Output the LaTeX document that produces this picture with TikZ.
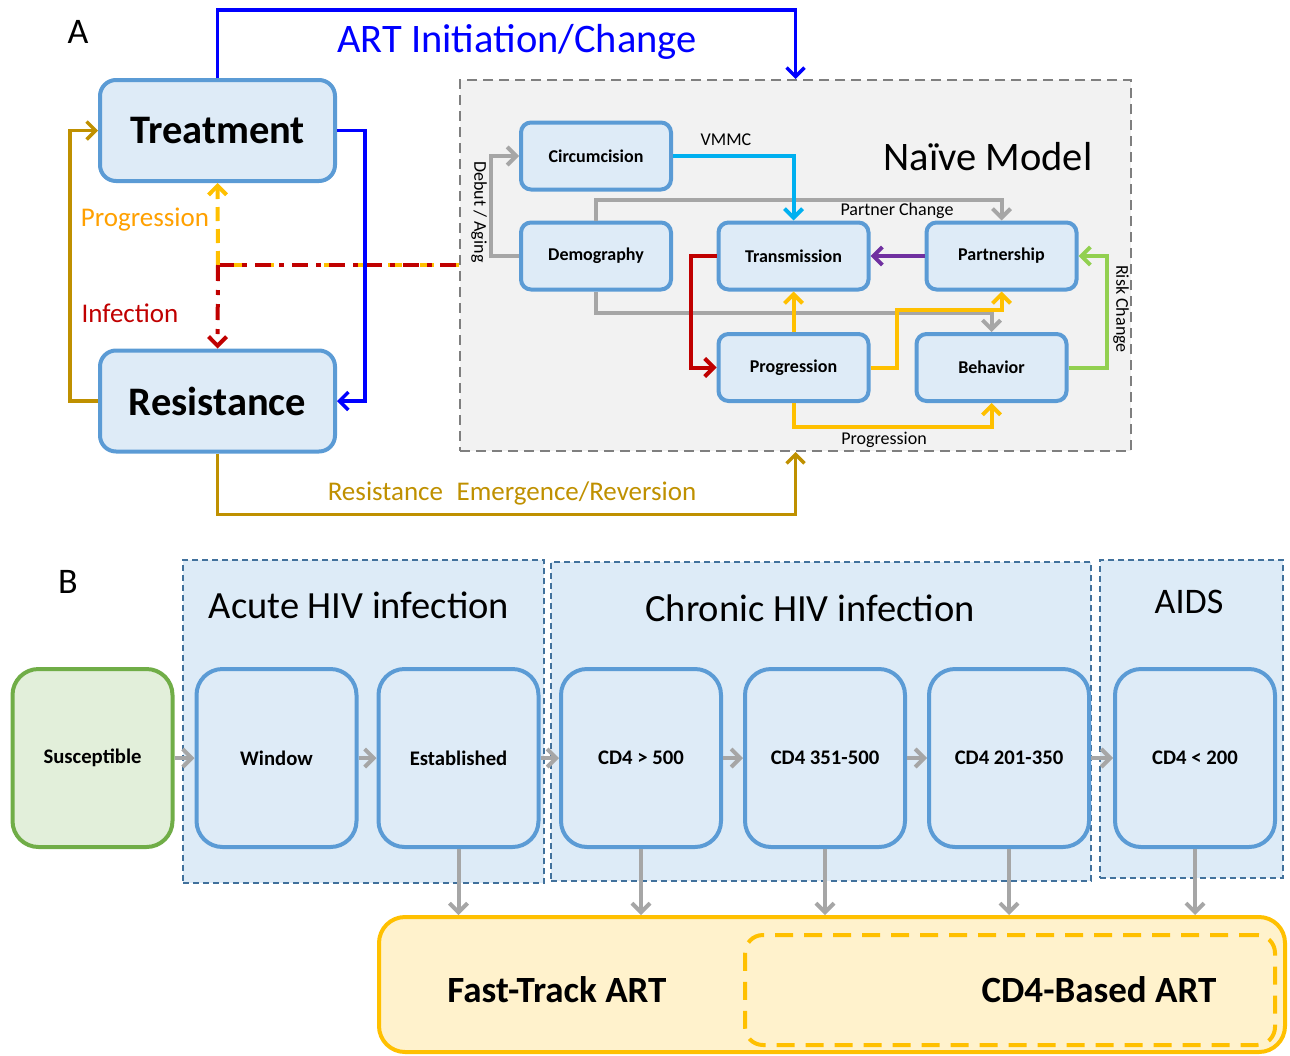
\documentclass[tikz,border=0pt]{standalone}
\usepackage{fontspec}
\setmainfont{Carlito}
\usetikzlibrary{arrows.meta,calc,positioning}
\definecolor{stateline}{HTML}{5B9BD5}
\definecolor{statefill}{HTML}{DEEBF7}
\definecolor{groupline}{HTML}{41719C}
\definecolor{groupfill}{HTML}{DDEBF7}
\definecolor{naivefill}{HTML}{F2F2F2}
\definecolor{naiveline}{HTML}{7F7F7F}
\definecolor{flowgray}{HTML}{A6A6A6}
\definecolor{artblue}{HTML}{0000FF}
\definecolor{resbrown}{HTML}{BF9000}
\definecolor{progorange}{HTML}{FFA000}
\definecolor{progyellow}{HTML}{FFC000}
\definecolor{infred}{HTML}{C00000}
\definecolor{vmmccyan}{HTML}{00B0F0}
\definecolor{partpurple}{HTML}{7030A0}
\definecolor{riskgreen}{HTML}{92D050}
\definecolor{suscline}{HTML}{70AD47}
\definecolor{suscfill}{HTML}{E2EFDA}
\definecolor{artfill}{HTML}{FFF2CC}
\tikzset{
  bigbox/.style={draw=stateline,fill=statefill,line width=4pt,rounded corners=16pt,minimum width=235pt,minimum height=101pt,inner sep=0pt,font=\fontsize{40.5}{42}\selectfont\bfseries},
  subbox/.style={draw=stateline,fill=statefill,line width=4pt,rounded corners=10pt,minimum width=150pt,minimum height=67pt,inner sep=0pt,font=\fontsize{18}{20}\selectfont\bfseries},
  stagebox/.style={draw=stateline,fill=statefill,line width=4pt,rounded corners=26pt,minimum width=160pt,minimum height=178pt,inner sep=0pt,font=\fontsize{20.7}{23}\selectfont\bfseries},
  groupbox/.style={draw=groupline,fill=groupfill,line width=1.6pt,dash pattern=on 6pt off 4pt,inner sep=0pt},
  barb/.style={-{Straight Barb[length=9pt,width=18pt]}},
  flow/.style={barb,line width=4pt,draw=flowgray},
  bigtext/.style={font=\fontsize{40.5}{42}\selectfont},
  grouptext/.style={font=\fontsize{38.5}{40}\selectfont},
  midtext/.style={font=\fontsize{27}{29}\selectfont},
  smalltext/.style={font=\fontsize{18}{20}\selectfont}
}
\begin{document}
\begin{tikzpicture}[
    x=1pt,y=-1pt,
    outerline/.style={barb,line width=3.5pt},
    innerline/.style={barb,line width=4pt}
  ]
  \useasboundingbox (0,0) rectangle (1290,1055);

  % ---- panel A
  \node[font=\fontsize{36}{38}\selectfont] (lblA) at (78,32) {A};
  \node[draw=naiveline,fill=naivefill,line width=2pt,dash pattern=on 10pt off 6pt,minimum width=671pt,minimum height=371pt,inner sep=0pt] (naive) at (795.5,265.5) {};
  \node[bigtext] (naivelbl) at (988,157) {Naïve Model};

  \node[bigbox] (treat) at (217.5,130.5) {Treatment};
  \node[bigbox] (resist) at (217.5,401) {Resistance};

  \coordinate (junc) at (218,265);
  \draw[progyellow,line width=4pt,dash pattern=on 14pt off 18pt,dash phase=-10pt] (junc) -- (junc -| naive.west);
  \draw[infred,line width=4pt,dash pattern=on 16pt off 8pt on 5pt off 8pt] (junc) -- (junc -| naive.west);
  \draw[outerline,progyellow,line width=4pt,dash pattern=on 14pt off 8pt] (junc) -- (treat.south);
  \draw[outerline,infred,line width=4pt,dash pattern=on 16pt off 9pt on 5pt off 9pt] (junc) -- (resist.north);
  \node[midtext,text=progorange] (proglbl) at (145,220) {Progression};
  \node[midtext,text=infred] (inflbl) at (130,313) {Infection};

  \draw[outerline,artblue] (treat.north) -- ++(0,-68) -| (naive.north);
  \node[bigtext,text=artblue] (artlbl) at (517,42) {ART Initiation/Change};
  \draw[outerline,artblue] (treat.east) -- ++(28,0) |- (resist.east);
  \draw[outerline,resbrown] (resist.west) -- ++(-28,0) |- (treat.west);
  \draw[outerline,resbrown] (resist.south) -- ++(0,61) -| (naive.south);
  \node[midtext,text=resbrown] (reslbl) at (512,493) {Resistance\enspace Emergence/Reversion};

  % naive model inside
  \node[subbox] (circ) at (596,156) {Circumcision};
  \node[subbox] (demo) at (596,256) {Demography};
  \node[subbox] (trans) at (793.5,256) {Transmission};
  \node[subbox] (partner) at (1001.5,256) {Partnership};
  \node[subbox] (prog) at (793.5,367.5) {Progression};
  \node[subbox] (behav) at (991.5,367.5) {Behavior};

  \draw[innerline,flowgray] (demo.west) -- ++(-28,0) |- (circ.west);
  \draw[innerline,flowgray] (demo.north) -- ++(0,-21) -| (partner.north);
  \draw[innerline,flowgray] (demo.south) -- ++(0,21) -| (behav.north);
  \draw[innerline,vmmccyan] (circ.east) -| (trans.north);
  \draw[innerline,partpurple] (partner.west) -- (trans.east);
  \draw[innerline,infred] (trans.west) -- ++(-26,0) |- (prog.west);
  \draw[innerline,progyellow] (prog.north) -- (trans.south);
  \draw[innerline,progyellow] (prog.east) -- ++(26,0) |- ($(partner.south)+(0,18)$) -- (partner.south);
  \draw[innerline,progyellow] (prog.south) -- ++(0,24) -| (behav.south);
  \draw[innerline,riskgreen] (behav.east) -- ++(38,0) |- (partner.east);

  \node[smalltext] (vmmclbl) at (726,140) {VMMC};
  \node[smalltext] (pclbl) at (897,211) {Partner Change};
  \node[smalltext] (plbl) at (884,440) {Progression};
  \node[smalltext,rotate=-90] (debutlbl) at (479,212) {Debut / Aging};
  \node[smalltext,rotate=-90] (risklbl) at (1121,309) {Risk Change};

  % ---- panel B
  \node[font=\fontsize{36}{38}\selectfont] (lblB) at (68,582) {B};
  \node[groupbox,minimum width=361pt,minimum height=323pt] (acute) at (363.5,721.5) {};
  \node[groupbox,minimum width=540pt,minimum height=319pt] (chronic) at (821,721.5) {};
  \node[groupbox,minimum width=183pt,minimum height=318pt] (aids) at (1191.5,719) {};
  \node[grouptext] (acutelbl) at (359,605) {Acute HIV infection};
  \node[grouptext] (chroniclbl) at (810,608) {Chronic HIV infection};
  \node[font=\fontsize{36}{38}\selectfont] (aidslbl) at (1189,602) {AIDS};

  \node[stagebox,draw=suscline,fill=suscfill] (susc) at (92.5,758) {Susceptible};
  \node[stagebox] (window) at (276.5,758) {Window};
  \node[stagebox] (estab) at (458.5,758) {Established};
  \node[stagebox] (cdA) at (641,758) {CD4 > 500};
  \node[stagebox] (cdB) at (825,758) {CD4 351-500};
  \node[stagebox] (cdC) at (1009,758) {CD4 201-350};
  \node[stagebox] (cdD) at (1195,758) {CD4 < 200};

  \node[draw=progyellow,fill=artfill,line width=4pt,rounded corners=26pt,minimum width=906pt,minimum height=135pt,inner sep=0pt] (art) at (832,984.5) {};
  \node[draw=progyellow,line width=4pt,dash pattern=on 18pt off 11pt,rounded corners=18pt,minimum width=530pt,minimum height=110pt,inner sep=0pt] (cdart) at (1010,990) {};
  \node[font=\fontsize{37}{39}\selectfont\bfseries] (fastlbl) at (557,990) {Fast-Track ART};
  \node[font=\fontsize{37}{39}\selectfont\bfseries] (cdlbl) at (1099,990) {CD4-Based ART};

  \foreach \a/\b in {susc/window,window/estab,estab/cdA,cdA/cdB,cdB/cdC,cdC/cdD}
    \draw[flow] (\a.east) -- (\b.west);
  \foreach \s in {estab,cdA,cdB,cdC,cdD}
    \draw[flow] (\s.south) -- (\s.south |- art.north);
\end{tikzpicture}
\end{document}
